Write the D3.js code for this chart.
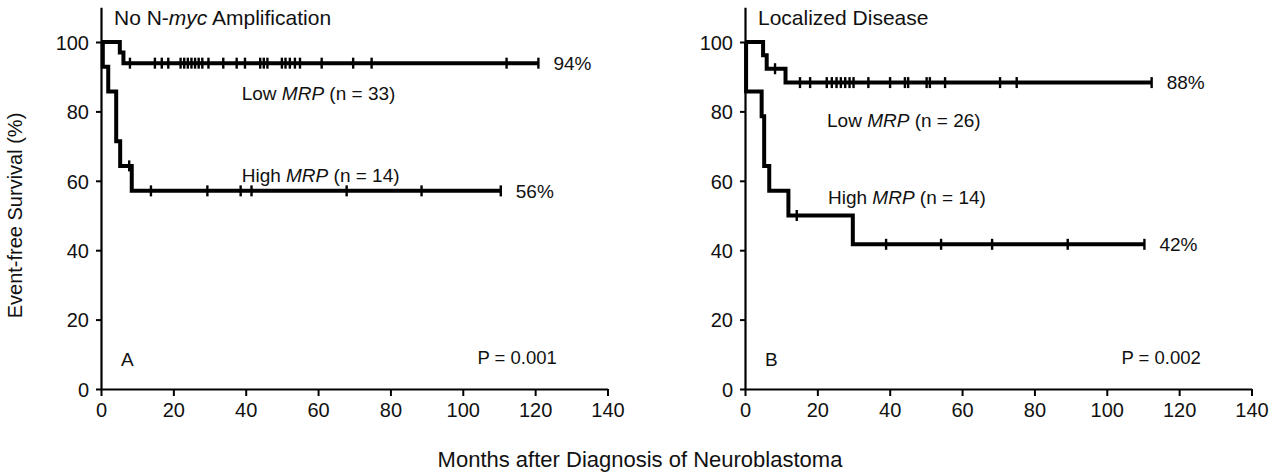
<!DOCTYPE html>
<html>
<head>
<meta charset="utf-8">
<script src="https://cdn.jsdelivr.net/npm/d3@7"></script>
<style>
  body { margin: 0; background: #fff; }
  svg { display: block; font-family: "Liberation Sans", Arial, Helvetica, sans-serif; }
</style>
</head>
<body>
<svg id="chart" width="1281" height="472"></svg>
<script>
// ---- data ----
const xTicks = [0, 20, 40, 60, 80, 100, 120, 140];
const yTicks = [0, 20, 40, 60, 80, 100];

// Panel A: no N-myc amplification
const lowATimes = [0, 5.2, 6.2];
const lowASurv = [100, 97.0, 93.9];
const lowAEnd = 120.9;
const lowACensor = [8.0, 14.9, 16.8, 18.6, 22, 23, 24, 25, 26, 27, 28, 29.7, 33.8, 37.5, 39.8,
  44, 45, 46, 50, 51, 52.2, 53.6, 55, 61, 69.7, 74.8, 112.1, 120.9];
const highATimes = [0, 0.5, 2.0, 4.2, 5.3, 8.5];
const highASurv = [100, 92.9, 85.7, 71.4, 64.3, 57.1];
const highAEnd = 110.5;
const highACensor = [7.8, 13.8, 29.4, 38.6, 41.6, 67.9, 88.6, 110.5];

// Panel B: localized disease
const lowBTimes = [0, 5.0, 6.0, 11.2];
const lowBSurv = [100, 96.2, 92.3, 88.3];
const lowBEnd = 112.4;
const lowBCensor = [8.3, 15.2, 18.0, 22.6, 24, 25.3, 26.5, 27.7, 28.9, 30, 34.1, 40.1, 44.2, 45.1,
  50.2, 51.1, 55.3, 70.5, 75.1, 112.4];
const highBTimes = [0, 0.3, 4.6, 5.3, 6.7, 12.0, 29.8];
const highBSurv = [100, 85.7, 78.6, 64.3, 57.1, 50.0, 41.7];
const highBEnd = 110.4;
const highBCensor = [14.3, 39.0, 54.2, 68.3, 89.2, 110.4];

// ---- layout ----
const svg = d3.select("#chart");
const y = d3.scaleLinear().domain([0, 110]).range([389, 7.3]);

const panels = [
  {
    left: 101, right: 607.5, letter: "A", p: "P = 0.001",
    title: ["No N-", "myc", " Amplification"],
    curves: [
      { times: lowATimes, surv: lowASurv, end: lowAEnd, censor: lowACensor,
        label: ["Low ", "MRP", " (n = 33)"], lx: 241.7, ly: 100, pct: "94%" },
      { times: highATimes, surv: highASurv, end: highAEnd, censor: highACensor,
        label: ["High ", "MRP", " (n = 14)"], lx: 241.7, ly: 182, pct: "56%" }
    ]
  },
  {
    left: 745, right: 1251.5, letter: "B", p: "P = 0.002",
    title: ["Localized Disease", "", ""],
    curves: [
      { times: lowBTimes, surv: lowBSurv, end: lowBEnd, censor: lowBCensor,
        label: ["Low ", "MRP", " (n = 26)"], lx: 827, ly: 127, pct: "88%" },
      { times: highBTimes, surv: highBSurv, end: highBEnd, censor: highBCensor,
        label: ["High ", "MRP", " (n = 14)"], lx: 828, ly: 204, pct: "42%" }
    ]
  }
];

function survAt(times, surv, t) {
  let s = surv[0];
  times.forEach((tt, i) => { if (tt <= t) s = surv[i]; });
  return s;
}

function styledText(g, parts, x, yy, size) {
  const t = g.append("text").attr("x", x).attr("y", yy)
    .style("font-size", size + "px").style("fill", "#111");
  t.append("tspan").text(parts[0]);
  if (parts[1]) t.append("tspan").style("font-style", "italic").text(parts[1]);
  if (parts[2]) t.append("tspan").text(parts[2]);
  return t;
}

panels.forEach(p => {
  const x = d3.scaleLinear().domain([0, 140]).range([p.left, p.right]);
  const g = svg.append("g");

  // axes
  g.append("g")
    .attr("transform", `translate(0,${y(0)})`)
    .call(d3.axisBottom(x).tickValues(xTicks).tickSize(7).tickSizeOuter(0).tickPadding(7))
    .call(a => a.select(".domain").attr("stroke-width", 2.2))
    .call(a => a.selectAll(".tick line").attr("stroke-width", 2))
    .selectAll("text")
    .style("font-family", "inherit").style("font-size", "20px").style("fill", "#111");

  g.append("g")
    .attr("transform", `translate(${x(0)},0)`)
    .call(d3.axisLeft(y).tickValues(yTicks).tickSize(5).tickSizeOuter(0).tickPadding(7))
    .call(a => a.select(".domain").attr("stroke-width", 2.2))
    .call(a => a.selectAll(".tick line").attr("stroke-width", 2))
    .selectAll("text")
    .attr("dy", "0.36em")
    .style("font-family", "inherit").style("font-size", "20px").style("fill", "#111");

  // curves
  const line = d3.line().x(d => x(d[0])).y(d => y(d[1])).curve(d3.curveStepAfter);
  p.curves.forEach(c => {
    const pts = c.times.map((t, i) => [t, c.surv[i]]);
    pts.push([c.end, c.surv[c.surv.length - 1]]);
    g.append("path").datum(pts)
      .attr("d", line)
      .attr("fill", "none").attr("stroke", "#000")
      .attr("stroke-width", 4).attr("stroke-linejoin", "miter");

    g.selectAll(null).data(c.censor).enter().append("line")
      .attr("x1", d => x(d)).attr("x2", d => x(d))
      .attr("y1", d => y(survAt(c.times, c.surv, d)) - 5.5)
      .attr("y2", d => y(survAt(c.times, c.surv, d)) + 5.5)
      .attr("stroke", "#000").attr("stroke-width", 2.4);

    styledText(g, c.label, c.lx, c.ly, 19);

    g.append("text")
      .attr("x", x(c.end) + 15)
      .attr("y", y(c.surv[c.surv.length - 1]))
      .attr("dy", "0.36em")
      .style("font-size", "19px").style("fill", "#111")
      .text(c.pct);
  });

  // panel title, letter, p-value
  styledText(g, p.title, x(0) + 13, 25, 21);
  g.append("text").attr("x", x(0) + 20).attr("y", 366)
    .style("font-size", "19px").style("fill", "#111").text(p.letter);
  g.append("text").attr("x", x(126)).attr("y", 364).attr("text-anchor", "end")
    .style("font-size", "18.5px").style("fill", "#111").text(p.p);
});

// shared axis titles
svg.append("text")
  .attr("transform", `translate(22,${y(50)}) rotate(-90)`)
  .attr("text-anchor", "middle")
  .style("font-size", "20px").style("fill", "#111")
  .text("Event-free Survival (%)");

svg.append("text")
  .attr("x", 640).attr("y", 467)
  .attr("text-anchor", "middle")
  .style("font-size", "22px").style("fill", "#111")
  .text("Months after Diagnosis of Neuroblastoma");
</script>
</body>
</html>
